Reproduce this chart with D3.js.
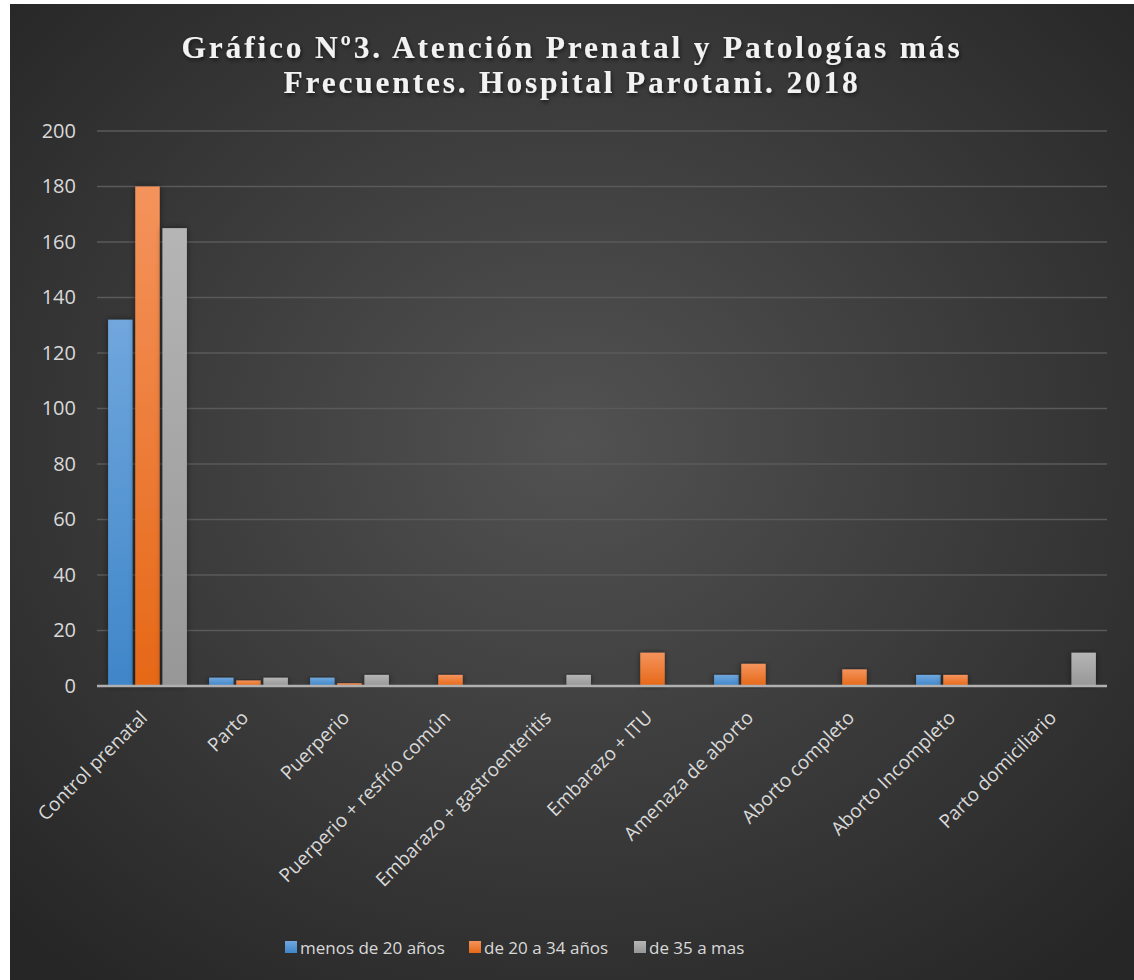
<!DOCTYPE html>
<html><head><meta charset="utf-8">
<script src="https://cdn.jsdelivr.net/npm/d3@7"></script>
<style>body{margin:0;background:#fff}svg{display:block}</style>
</head><body><svg id="c" width="1134" height="980"></svg>
<script>
const categories = ["Control prenatal","Parto","Puerperio","Puerperio + resfrío común","Embarazo + gastroenteritis","Embarazo + ITU","Amenaza de aborto","Aborto completo","Aborto Incompleto","Parto domiciliario"];
const seriesNames = ["menos de 20 años","de 20 a 34 años","de 35 a mas"];
const menos20 = [132,3,3,0,0,0,4,0,4,0];
const de20a34 = [180,2,1,4,0,12,8,6,4,0];
const de35 = [165,3,4,0,4,0,0,0,0,12];
const yTicks = [0,20,40,60,80,100,120,140,160,180,200];
const titleLines = ["Gráfico Nº3. Atención Prenatal y Patologías más","Frecuentes. Hospital Parotani. 2018"];

const svg = d3.select("#c");
const defs = svg.append("defs");
const bg = defs.append("radialGradient").attr("id","bg").attr("cx","0.5").attr("cy","0.45").attr("r","0.7");
bg.append("stop").attr("offset","0").attr("stop-color","#525252");
bg.append("stop").attr("offset","1").attr("stop-color","#262626");
const cols = [["#70a7dd","#3f86c9"],["#f4935c","#e66817"],["#b5b5b5","#979797"]];
cols.forEach((c,i)=>{
  const g = defs.append("linearGradient").attr("id","g"+i).attr("x1",0).attr("y1",0).attr("x2",0).attr("y2",1);
  g.append("stop").attr("offset",0).attr("stop-color",c[0]);
  g.append("stop").attr("offset",1).attr("stop-color",c[1]);
});
const sh = defs.append("filter").attr("id","sh").attr("x","-20%").attr("y","-20%").attr("width","140%").attr("height","140%");
sh.append("feDropShadow").attr("dx",1).attr("dy",2).attr("stdDeviation",2).attr("flood-color","#000").attr("flood-opacity",0.6);
const bs = defs.append("filter").attr("id","bs").attr("x","-30%").attr("y","-10%").attr("width","160%").attr("height","120%");
bs.append("feDropShadow").attr("dx",0).attr("dy",0).attr("stdDeviation",3).attr("flood-color","#000").attr("flood-opacity",0.5);

svg.append("rect").attr("x",10).attr("y",4).attr("width",1124).attr("height",976).attr("fill","url(#bg)");

const x0 = d3.scaleBand().domain(categories).range([97,1107]).paddingInner(0.22).paddingOuter(0.11);
const x1 = d3.scaleBand().domain(seriesNames).range([0,x0.bandwidth()]).padding(0.1).paddingOuter(0);
const y = d3.scaleLinear().domain([0,200]).range([686,131]);

// gridlines
svg.append("g").selectAll("line").data(yTicks.filter(d=>d>0)).join("line")
  .attr("x1",97).attr("x2",1107).attr("y1",d=>y(d)).attr("y2",d=>y(d))
  .attr("stroke","#5a5a5a").attr("stroke-width",1.5);

// y labels
const yAxis = d3.axisLeft(y).tickValues(yTicks).tickSize(0).tickPadding(0);
const ya = svg.append("g").attr("transform","translate(76,0)").call(yAxis);
ya.select(".domain").remove();
ya.selectAll("text").attr("fill","#d9d9d9").attr("font-family","'Open Sans',sans-serif").attr("font-size",20).attr("dy","0.3em");

// bars
const series = [menos20,de20a34,de35];
const rows = [];
categories.forEach((c,ci)=>series.forEach((s,si)=>{ if(s[ci]>0) rows.push({c,s:seriesNames[si],si,v:s[ci]}); }));
svg.append("g").selectAll("rect").data(rows).join("rect")
  .attr("x",d=>x0(d.c)+x1(d.s)).attr("width",x1.bandwidth())
  .attr("y",d=>y(d.v)).attr("height",d=>y(0)-y(d.v))
  .attr("fill",d=>"url(#g"+d.si+")").attr("filter","url(#bs)");

// baseline
svg.append("line").attr("x1",97).attr("x2",1107).attr("y1",y(0)).attr("y2",y(0)).attr("stroke","#b0b0b0").attr("stroke-width",2.5);

// x labels
const xAxis = d3.axisBottom(x0).tickSize(0).tickPadding(0);
const xa = svg.append("g").attr("transform","translate(0,"+(y(0))+")").call(xAxis);
xa.select(".domain").remove();
xa.selectAll("text").attr("fill","#d9d9d9").attr("font-family","'Open Sans',sans-serif").attr("font-size",19)
  .attr("text-anchor","end").attr("dy",0).attr("dx",0)
  .attr("transform","translate(1,33) rotate(-45)");

// title
svg.append("g").selectAll("text").data(titleLines).join("text")
  .attr("x",572).attr("y",(d,i)=>58+i*35).attr("text-anchor","middle")
  .attr("font-family","'Liberation Serif',serif").attr("font-weight","bold").attr("font-size",31.5)
  .attr("letter-spacing",2.8).attr("fill","#f2f2f2").attr("filter","url(#sh)").text(d=>d);

// legend
const lg = svg.append("g");
const lx = [285,469,634];
seriesNames.forEach((n,i)=>{
  lg.append("rect").attr("x",lx[i]).attr("y",941).attr("width",12).attr("height",12).attr("fill","url(#g"+i+")");
  lg.append("text").attr("x",lx[i]+15).attr("y",954).attr("fill","#d9d9d9").attr("font-family","'Open Sans',sans-serif").attr("font-size",17).text(n);
});
</script></body></html>
